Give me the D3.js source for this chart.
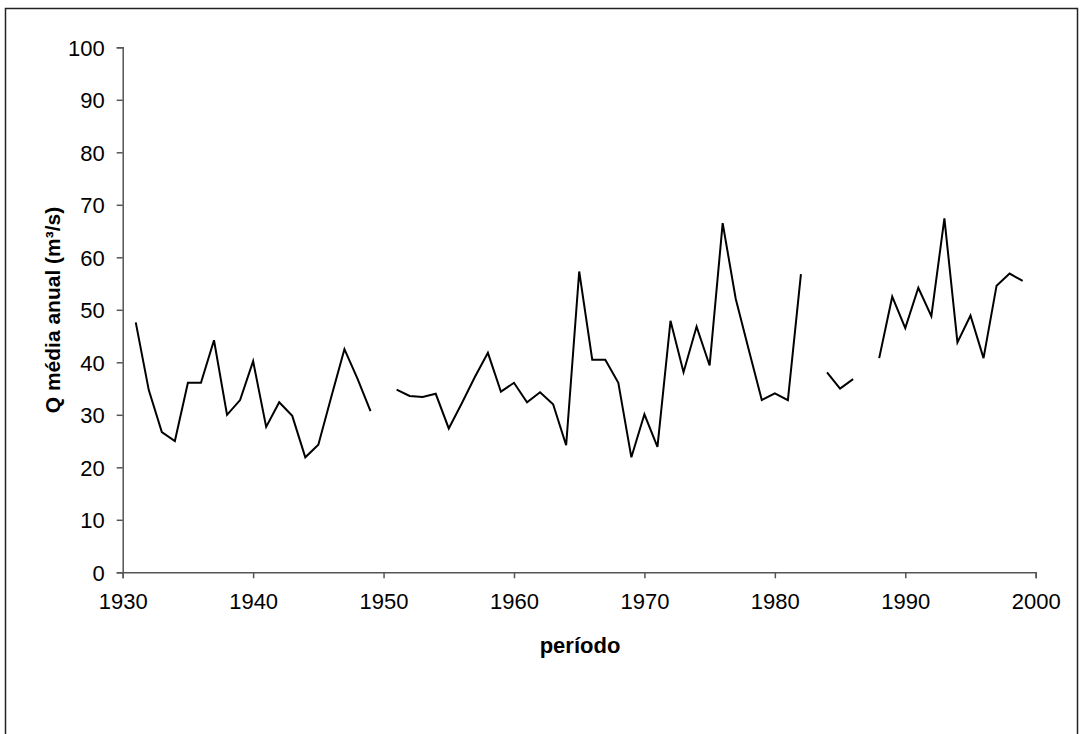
<!DOCTYPE html>
<html>

<head>
  <meta charset="utf-8">
  <title>Q média anual</title>
  <script src="https://cdn.jsdelivr.net/npm/d3@7"></script>
</head>
<style>
  html,
  body {
    margin: 0;
    padding: 0;
    overflow: hidden;
    background: white
  }

  svg {
    font-family: "Liberation Sans", Arial, sans-serif;
  }
</style>

<body>
  <div id="chart"></div>
</body>
<script>
  // annual mean flow, one value per year, null where the record is missing
  const years = d3.range(1931, 2000)
  const flows = [
    47.6, 34.7, 26.7, 25.0, 36.1, 36.1, 44.2, 30.0, 32.8, 40.2,
    27.7, 32.4, 29.8, 21.9, 24.3, 33.5, 42.5, 36.9, 30.7, null,
    34.8, 33.6, 33.4, 34.0, 27.4, 32.2, 37.2, 41.8, 34.4, 36.1,
    32.4, 34.3, 32.0, 24.2, 57.3, 40.5, 40.5, 36.1, 21.9, 30.1,
    23.9, 47.9, 38.1, 46.8, 39.4, 66.5, 52.1, 42.4, 32.8, 34.1,
    32.8, 56.8, null, 38.1, 35.0, 36.8, null, 40.8, 52.5, 46.5,
    54.2, 48.8, 67.4, 43.8, 48.9, 40.8, 54.6, 56.9, 55.5
  ]
  const xTicks = [1930, 1940, 1950, 1960, 1970, 1980, 1990, 2000]
  const yTicks = [0, 10, 20, 30, 40, 50, 60, 70, 80, 90, 100]

  const width = 1083, height = 734
  const svg = d3.select('#chart').append('svg')
    .attr('width', width)
    .attr('height', height)

  // outer frame
  svg.append('rect')
    .attr('x', 5.5).attr('y', 8.5)
    .attr('width', 1072).attr('height', 740)
    .attr('fill', 'none')
    .attr('stroke', '#222')
    .attr('stroke-width', 1.5)

  const x = d3.scaleLinear().domain([1930, 2000]).range([122.7, 1035.7])
  const y = d3.scaleLinear().domain([0, 100]).range([572.3, 47.3])

  const xAxis = svg.append('g')
    .attr('transform', 'translate(0,' + y(0) + ')')
    .call(d3.axisBottom(x).tickValues(xTicks).tickFormat(d3.format('d')).tickSizeOuter(0).tickSize(6).tickPadding(12))
  const yAxis = svg.append('g')
    .attr('transform', 'translate(' + x(1930) + ',0)')
    .call(d3.axisLeft(y).tickValues(yTicks).tickSizeOuter(0).tickSize(6).tickPadding(12))

  svg.selectAll('.domain, .tick line').attr('stroke', '#555').attr('stroke-width', 1.5)
  svg.selectAll('.tick text').attr('font-size', 22).attr('fill', '#000')
    .attr('font-family', '"Liberation Sans", Arial, sans-serif')
  xAxis.selectAll('.tick text').attr('dy', '0.85em')
  yAxis.selectAll('.tick text').attr('dy', '0.36em')

  const line = d3.line()
    .defined(d => d[1] !== null)
    .x(d => x(d[0]))
    .y(d => y(d[1]))

  svg.append('path')
    .datum(years.map((yr, i) => [yr, flows[i]]))
    .attr('d', line)
    .attr('fill', 'none')
    .attr('stroke', '#000')
    .attr('stroke-width', 2)
    .attr('stroke-linejoin', 'miter')

  svg.append('text')
    .attr('x', 580).attr('y', 653)
    .attr('text-anchor', 'middle')
    .attr('font-size', 22).attr('font-weight', 'bold')
    .text('período')

  svg.append('text')
    .attr('transform', 'translate(60,310) rotate(-90)')
    .attr('text-anchor', 'middle')
    .attr('font-size', 21).attr('font-weight', 'bold')
    .text('Q média anual (m³/s)')
</script>

</html>
